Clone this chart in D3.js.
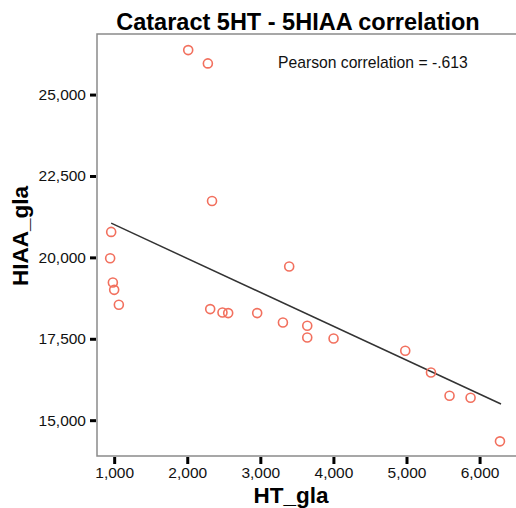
<!DOCTYPE html>
<html>
<head>
<meta charset="utf-8">
<script src="https://cdn.jsdelivr.net/npm/d3@7"></script>
<style>
  html, body { margin: 0; padding: 0; background: #fff; }
  text { font-family: "Liberation Sans", Arial, sans-serif; }
</style>
</head>
<body>
<svg id="chart" width="516" height="508"></svg>
<script>
// values
const htGla = [2013, 2282, 2339, 959, 945, 982, 1000, 1064, 2314, 2482, 2560, 2957,
  3309, 3642, 3642, 4002, 3395, 4983, 5335, 5589, 5877, 6279];
const hiaaGla = [26365, 25957, 21733, 20782, 19975, 19227, 19003, 18543, 18411, 18307, 18288, 18288,
  18000, 17899, 17540, 17509, 19718, 17132, 16466, 15752, 15690, 14350];
const fitX = [959, 6293];
const fitY = [21050, 15497];
const xTicks = [1000, 2000, 3000, 4000, 5000, 6000];
const yTicks = [15000, 17500, 20000, 22500, 25000];

const svg = d3.select("#chart");
const margin = { top: 34, left: 97, bottom: 456, right: 530 };

const x = d3.scaleLinear().domain([765, 6690]).range([margin.left, margin.right]);
const y = d3.scaleLinear().domain([13900, 26860]).range([margin.bottom, margin.top]);

// frame
svg.append("rect")
  .attr("x", margin.left).attr("y", margin.top)
  .attr("width", margin.right - margin.left)
  .attr("height", margin.bottom - margin.top)
  .attr("fill", "none")
  .attr("stroke", "#8a8a8a")
  .attr("stroke-width", 1.5);

const yAxis = svg.append("g")
  .attr("transform", `translate(${margin.left - 1},0)`)
  .call(d3.axisLeft(y).tickValues(yTicks).tickFormat(d3.format(",")).tickSize(6).tickPadding(4));
yAxis.select(".domain").remove();
yAxis.selectAll(".tick line").attr("stroke", "#000").attr("stroke-width", 3);
yAxis.selectAll(".tick text").style("font-size", "15.5px").attr("fill", "#111");

const xAxis = svg.append("g")
  .attr("transform", `translate(0,${margin.bottom + 1})`)
  .call(d3.axisBottom(x).tickValues(xTicks).tickFormat(d3.format(",")).tickSize(7).tickPadding(3));
xAxis.select(".domain").remove();
xAxis.selectAll(".tick line").attr("stroke", "#000").attr("stroke-width", 3);
xAxis.selectAll(".tick text").style("font-size", "15.5px").attr("fill", "#111");

// fit line
svg.append("line")
  .attr("x1", x(fitX[0])).attr("y1", y(fitY[0]))
  .attr("x2", x(fitX[1])).attr("y2", y(fitY[1]))
  .attr("stroke", "#333")
  .attr("stroke-width", 1.5);

// points
svg.selectAll(".pt")
  .data(d3.zip(htGla, hiaaGla))
  .enter()
  .append("circle")
  .attr("class", "pt")
  .attr("cx", d => x(d[0]))
  .attr("cy", d => y(d[1]))
  .attr("r", 4.5)
  .attr("fill", "none")
  .attr("stroke", "#f2705e")
  .attr("stroke-width", 1.6);

svg.append("text")
  .attr("x", 278).attr("y", 68)
  .style("font-size", "15.7px")
  .attr("fill", "#111")
  .text("Pearson correlation = -.613");

svg.append("text")
  .attr("x", 298).attr("y", 30)
  .attr("text-anchor", "middle")
  .style("font-size", "23.5px").style("font-weight", "bold")
  .text("Cataract 5HT - 5HIAA correlation");

svg.append("text")
  .attr("x", 291).attr("y", 503)
  .attr("text-anchor", "middle")
  .style("font-size", "22.5px").style("font-weight", "bold")
  .text("HT_gla");

svg.append("text")
  .attr("transform", "translate(28,236) rotate(-90)")
  .attr("text-anchor", "middle")
  .style("font-size", "22.5px").style("font-weight", "bold")
  .text("HIAA_gla");
</script>
</body>
</html>
